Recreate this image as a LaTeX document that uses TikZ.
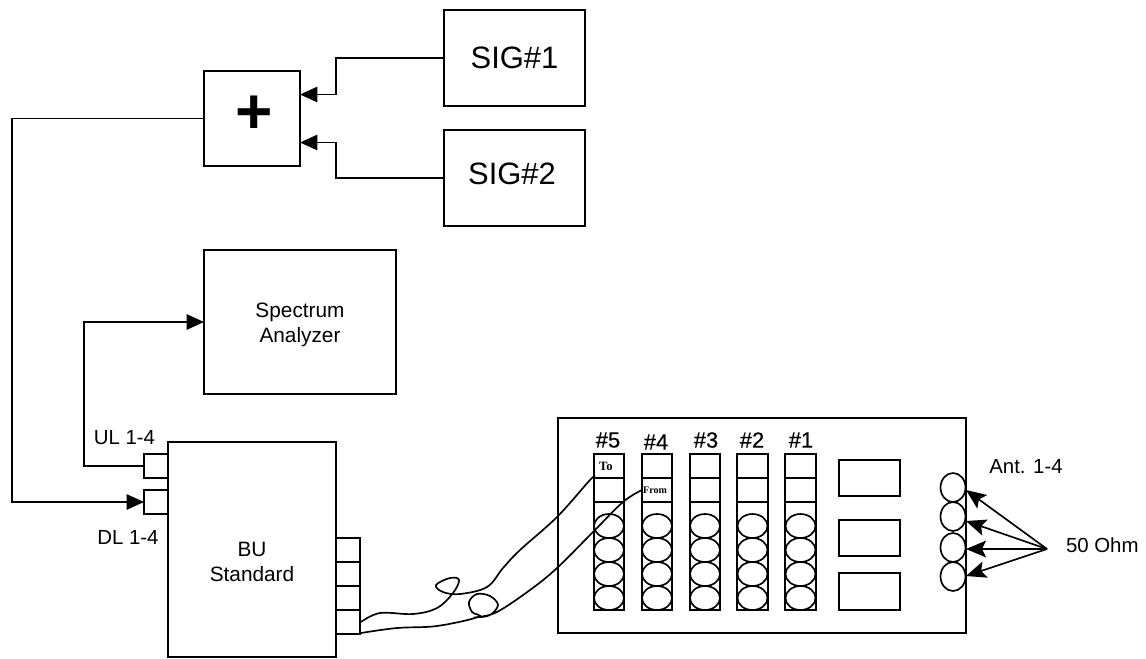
\documentclass[tikz,border=0pt]{standalone}
\usepackage{fontspec}
\setmainfont{Liberation Sans}
\newfontfamily\tinyserif{Liberation Serif}
\newfontfamily\heavysans[FakeBold=0.5]{Liberation Sans}
\usetikzlibrary{arrows.meta}
\usetikzlibrary{shapes.geometric}
\tikzset{
  x=0.75pt,y=-0.75pt,
  box/.style={draw=black,line width=1.25pt,fill=white,inner sep=0pt,outer sep=0pt},
  oval/.style={draw=black,line width=1.25pt,fill=white,ellipse,inner sep=0pt,outer sep=0pt},
  wire/.style={draw=black,line width=1.25pt},
  feed/.style={wire,-{Triangle[length=13pt,width=11.5pt]}},
  load/.style={wire,-{Stealth[length=15pt,width=12.5pt,inset=3pt]}},
  label/.style={inner sep=0pt,outer sep=0pt,font=\fontsize{15.3}{18}\selectfont,align=center},
  twoline/.style={inner sep=0pt,outer sep=0pt,font=\fontsize{15.6}{19}\selectfont,align=center},
  big/.style={inner sep=0pt,outer sep=0pt,font=\fontsize{23.2}{26}\selectfont},
  num/.style={inner sep=0pt,outer sep=0pt,font=\heavysans\fontsize{16.5}{18}\selectfont},
  tag/.style={inner sep=0pt,outer sep=0pt},
}
\newcommand{\pxbox}[5]{\node[box,minimum width={(#4-#2)*0.75pt},minimum height={(#5-#3)*0.75pt}] (#1) at ({(#2+#4)/2},{(#3+#5)/2}) {};}
\newcommand{\pxoval}[5]{\node[oval,minimum width={2*#4*0.75pt},minimum height={2*#5*0.75pt}] (#1) at (#2,#3) {};}
\begin{document}
\begin{tikzpicture}
\useasboundingbox (0,0) rectangle (1146,658);
% main boxes
\pxbox{sigA}{444}{10}{585}{106}
\pxbox{sigB}{444}{130}{585}{226}
\pxbox{plus}{204}{71}{300}{166}
\pxbox{sa}{204}{250}{396}{394}
\pxbox{bu}{168}{442}{336}{657}
\pxbox{ul}{144}{454}{168}{478}
\pxbox{dl}{144}{490}{168}{514}
\pxbox{pA}{336}{538}{360}{562}
\pxbox{pB}{336}{562}{360}{586}
\pxbox{pC}{336}{586}{360}{610}
\pxbox{pD}{336}{610}{360}{634}
\pxbox{rack}{558}{418}{966}{633}
% columns of the rack
\foreach \n/\a/\b in {5/594/624,4/642/672,3/690/720,2/737/768,1/785/816}{
  \pxbox{col\n}{\a}{502}{\b}{610}
  \pxbox{top\n}{\a}{454}{\b}{478}
  \pxbox{mid\n}{\a}{478}{\b}{502}
  \foreach \k/\y in {1/526,2/550,3/574,4/598}{
    \pxoval{e\n\k}{{(\a+\b)/2}}{\y}{15}{12}
  }
}
\pxbox{rA}{839}{460}{900}{496}
\pxbox{rB}{839}{520}{900}{556}
\pxbox{rC}{839}{573}{900}{610}
\pxoval{antA}{953}{487.5}{12.5}{14.5}
\pxoval{antB}{953}{516.5}{12.5}{14.5}
\pxoval{antC}{953}{547.5}{12.5}{14.5}
\pxoval{antD}{953}{576.5}{12.5}{14.5}
% texts
\node[big] at (514.5,58) {SIG\#1};
\node[big] at (512,174) {SIG\#2};
\node[inner sep=0pt,font=\fontsize{48}{50}\selectfont\bfseries] at (254,115) {+};
\node[twoline] at (300,325) {Spectrum\\Analyzer};
\node[twoline] at (252,562) {BU\\Standard};
\node[label] at (124.5,438) {UL 1-4};
\node[label] at (128,537) {DL 1-4};
\node[label] at (1026,467) {Ant. 1-4};
\node[num] at (608,440) {\#5};
\node[num] at (656,442) {\#4};
\node[num] at (706,440) {\#3};
\node[num] at (752,440) {\#2};
\node[num] at (801,440) {\#1};
\node[tag,font=\tinyserif\bfseries\fontsize{9.5}{10}\selectfont] at (606,466) {To};
\node[tag,font=\tinyserif\bfseries\fontsize{7.5}{8}\selectfont] at (655,490) {From};
\node[label,anchor=west] (ohm) at (1066,545) {50 Ohm};
\coordinate (hub) at (1047,549);
% connectors
\draw[feed] (sigA.west) -- (336,58) |- ([yshift=18pt]plus.east);
\draw[feed] (sigB.west) -- (336,178) |- ([yshift=-18pt]plus.east);
\draw[feed] (plus.west) -| (12,502) -- (dl.west);
\draw[feed] (ul.west) -- (84,466) |- (sa.west);
\draw[load] (hub) -- (966,490);
\draw[load] (hub) -- (966,521);
\draw[load] (hub) -- (966,549);
\draw[load] (hub) -- (966,576);
% cables
\draw[wire] plot[smooth,tension=0.6] coordinates {(361,622) (380,613) (413,614) (437,608) (453,593) (459,580) (450,578) (436,585) (443,592) (460,594) (487,587) (503,568) (520,550) (557,517) (590,480) (top5.south west)};
\draw[wire] plot[smooth,tension=0.6] coordinates {(361,633) (397,628) (437,626) (478,617) (472,612) (469,602) (477,594) (490,596) (498,605) (490,615) (478,617) (497,612) (530,590) (557,568) (593,532) (623,502) (mid4.west)};
\end{tikzpicture}
\end{document}
